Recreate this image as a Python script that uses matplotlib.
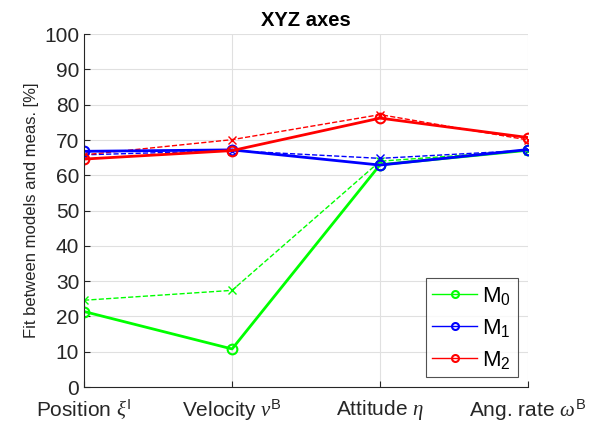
import matplotlib
matplotlib.use("Agg")
import matplotlib.pyplot as plt

plt.rcParams['font.family'] = ['Liberation Sans', 'DejaVu Sans']
plt.rcParams['mathtext.fontset'] = 'custom'
plt.rcParams['mathtext.rm'] = 'Liberation Sans'
plt.rcParams['mathtext.sf'] = 'Liberation Sans'
plt.rcParams['mathtext.it'] = 'Liberation Serif:italic'
plt.rcParams['mathtext.bf'] = 'Liberation Sans:bold'

categories = ["Position $\\xi^\\mathrm{I}$", "Velocity $v^\\mathrm{B}$",
              "Attitude $\\eta$", "Ang. rate $\\omega^\\mathrm{B}$"]
m0_solid = [21.4, 10.8, 63.0, 67.1]
m0_dash = [24.6, 27.4, 64.0, 67.0]
m1_solid = [66.8, 67.2, 62.9, 67.3]
m1_dash = [65.8, 67.0, 64.8, 67.1]
m2_solid = [64.6, 67.0, 76.2, 70.7]
m2_dash = [65.8, 70.1, 77.2, 70.0]
labels = ["M$_\\mathrm{0}$", "M$_\\mathrm{1}$", "M$_\\mathrm{2}$"]
colors = ["#00ff00", "#0000ff", "#ff0000"]

fig = plt.figure(figsize=(5.92, 4.32), dpi=100)
ax = fig.add_axes([0.142, 0.104, 0.75, 0.817])
x = list(range(1, len(categories) + 1))

for das, c in zip([m0_dash, m1_dash, m2_dash], colors):
    ax.plot(x, das, '--', color=c, lw=1.0, marker='x', ms=6, mew=1.0)
for sol, lab, c in zip([m0_solid, m1_solid, m2_solid], labels, colors):
    ax.plot(x, sol, '-', color=c, lw=2.0, marker='o', ms=7, mfc='none', mew=1.5, label=lab)

ax.set_xlim(1, 4)
ax.set_ylim(0, 100)
ax.set_yticks(range(0, 101, 10))
ax.set_xticks(x)
ax.set_xticklabels(categories, fontsize=15)
ax.tick_params(axis='y', labelsize=15, direction='in', length=4, colors='#262626')
ax.tick_params(axis='x', direction='in', length=4, colors='#262626', pad=8)
for lbl in ax.get_xticklabels() + ax.get_yticklabels():
    lbl.set_color('#262626')
ax.grid(True, color='#e0e0e0', lw=0.8)
ax.set_axisbelow(True)
ax.spines['top'].set_visible(False)
ax.spines['right'].set_visible(False)
ax.spines['left'].set_color('#262626')
ax.spines['bottom'].set_color('#262626')
ax.set_ylabel("Fit between models and meas. [%]", fontsize=12, color='#262626')
ax.set_title("XYZ axes", fontsize=14.5, fontweight='bold', color='#000000')

leg = ax.legend(loc='lower right', fontsize=16, frameon=True, fancybox=False,
                edgecolor='#262626', handlelength=2.0, handletextpad=0.25,
                borderpad=0.3, labelspacing=0.45, borderaxespad=0,
                bbox_to_anchor=(0.977, 0.028))
leg.get_frame().set_linewidth(0.8)
for line in leg.get_lines():
    line.set_linewidth(1.0)
    line.set_markersize(5)

fig.savefig("out.png", dpi=100)
